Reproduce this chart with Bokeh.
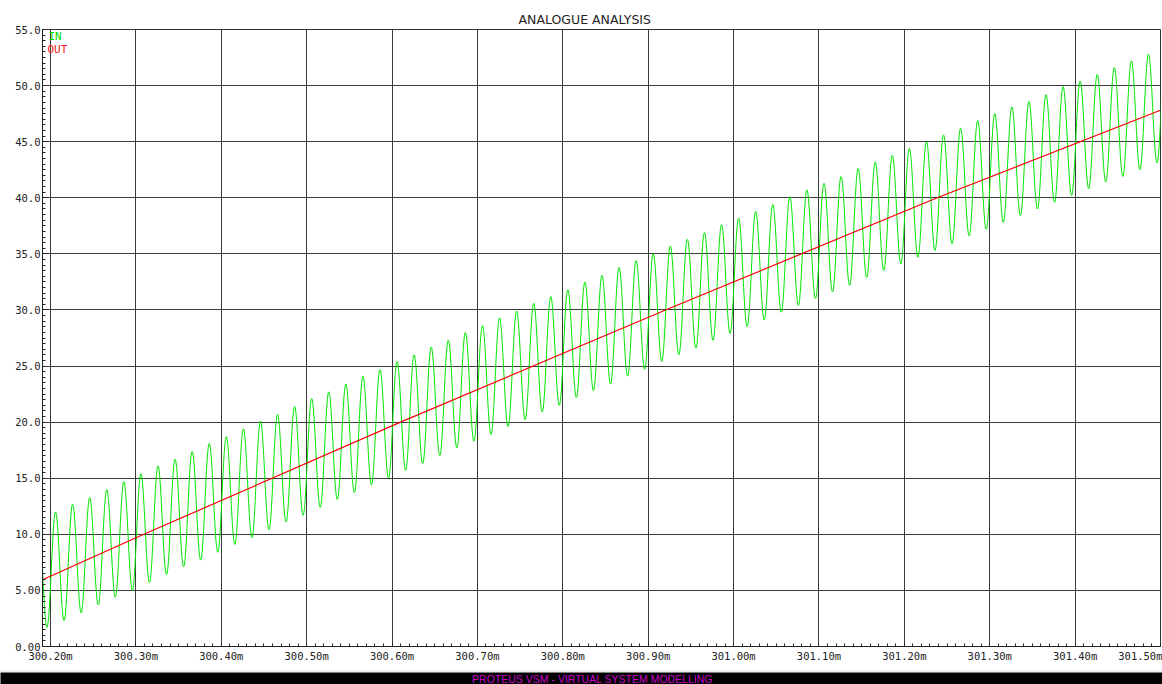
import numpy as np
from bokeh.plotting import figure
from bokeh.models import Range1d, FixedTicker, ColumnDataSource, Label
from bokeh.layouts import column
from bokeh.embed import file_html
from bokeh.resources import INLINE

# IN trace: successive peaks and troughs of the input signal (time in ms, volts)
in_t_ms = [
    300.1859, 300.1959, 300.2059, 300.2159, 300.2259, 300.2359, 300.2459, 300.2559, 300.2659, 300.2759,
    300.2859, 300.2959, 300.3059, 300.3159, 300.3259, 300.3359, 300.3459, 300.3559, 300.3659, 300.3759,
    300.3859, 300.3959, 300.4059, 300.4159, 300.4259, 300.4359, 300.4459, 300.4559, 300.4659, 300.4759,
    300.4859, 300.4959, 300.5059, 300.5159, 300.5259, 300.5359, 300.5459, 300.5559, 300.5659, 300.5759,
    300.5859, 300.5959, 300.6059, 300.6159, 300.6259, 300.6359, 300.6459, 300.6559, 300.6659, 300.6759,
    300.6859, 300.6959, 300.7059, 300.7159, 300.7259, 300.7359, 300.7459, 300.7559, 300.7659, 300.7759,
    300.7859, 300.7959, 300.8059, 300.8159, 300.8259, 300.8359, 300.8459, 300.8559, 300.8659, 300.8759,
    300.8859, 300.8959, 300.9059, 300.9159, 300.9259, 300.9359, 300.9459, 300.9559, 300.9659, 300.9759,
    300.9859, 300.9959, 301.0059, 301.0159, 301.0259, 301.0359, 301.0459, 301.0559, 301.0659, 301.0759,
    301.0859, 301.0959, 301.1059, 301.1159, 301.1259, 301.1359, 301.1459, 301.1559, 301.1659, 301.1759,
    301.1859, 301.1959, 301.2059, 301.2159, 301.2259, 301.2359, 301.2459, 301.2559, 301.2659, 301.2759,
    301.2859, 301.2959, 301.3059, 301.3159, 301.3259, 301.3359, 301.3459, 301.3559, 301.3659, 301.3759,
    301.3859, 301.3959, 301.4059, 301.4159, 301.4259, 301.4359, 301.4459, 301.4559, 301.4659, 301.4759,
    301.4859, 301.4959, 301.5059,
]
in_v = [
    11.3, 1.7, 12.0, 2.3, 12.7, 3.0, 13.3, 3.7, 14.0, 4.4,
    14.7, 5.0, 15.4, 5.7, 16.1, 6.4, 16.7, 7.1, 17.4, 7.7,
    18.1, 8.4, 18.7, 9.1, 19.4, 9.7, 20.1, 10.4, 20.7, 11.1,
    21.4, 11.7, 22.1, 12.4, 22.7, 13.1, 23.4, 13.7, 24.1, 14.4,
    24.7, 15.0, 25.4, 15.7, 26.0, 16.3, 26.7, 17.0, 27.3, 17.7,
    28.0, 18.3, 28.6, 18.9, 29.3, 19.6, 29.9, 20.2, 30.6, 20.9,
    31.2, 21.5, 31.8, 22.2, 32.5, 22.8, 33.1, 23.4, 33.8, 24.1,
    34.4, 24.7, 35.0, 25.4, 35.7, 26.0, 36.3, 26.6, 36.9, 27.3,
    37.6, 27.9, 38.2, 28.5, 38.8, 29.1, 39.4, 29.8, 40.1, 30.4,
    40.7, 31.0, 41.3, 31.6, 41.9, 32.2, 42.6, 32.9, 43.2, 33.5,
    43.8, 34.1, 44.4, 34.7, 45.0, 35.3, 45.6, 35.9, 46.2, 36.6,
    46.9, 37.2, 47.5, 37.8, 48.1, 38.4, 48.6, 39.0, 49.2, 39.6,
    49.9, 40.2, 50.4, 40.8, 51.0, 41.4, 51.6, 41.9, 52.2, 42.5,
    52.8, 43.1, 53.4,
]

# OUT trace: filtered output ramp
out_t_ms = [300.1906, 300.3093, 300.6099, 300.9203, 301.2385, 301.50]
out_v = [5.95, 10.0, 20.0, 30.0, 40.0, 47.8]

# Axis ticks and their labels
x_ticks = [300.2, 300.3, 300.4, 300.5, 300.6, 300.7, 300.8, 300.9,
           301.0, 301.1, 301.2, 301.3, 301.4, 301.5]
x_tick_labels = ["300.20m", "300.30m", "300.40m", "300.50m", "300.60m", "300.70m", "300.80m",
                 "300.90m", "301.00m", "301.10m", "301.20m", "301.30m", "301.40m", "301.50m"]
y_ticks = [0, 5, 10, 15, 20, 25, 30, 35, 40, 45, 50, 55]
y_tick_labels = ["0.00", "5.00", "10.0", "15.0", "20.0", "25.0",
                 "30.0", "35.0", "40.0", "45.0", "50.0", "55.0"]

X_START, X_END = 300.19063, 301.50
Y_START, Y_END = 0.0, 55.0

MONO = "DejaVu Sans Mono"
INK = "#222222"
W = 1162


def strip(height, color):
    """A plain full-width coloured band (window furniture)."""
    s = figure(width=W, height=height, x_axis_type=None, y_axis_type=None,
               x_range=Range1d(0, W), y_range=Range1d(0, height),
               output_backend="svg", toolbar_location=None, frame_align=False,
               min_border=0,
               background_fill_color=color, border_fill_color=color,
               outline_line_color=None)
    s.grid.visible = False
    return s


p = figure(
    width=W, height=654,
    x_range=Range1d(X_START, X_END), y_range=Range1d(Y_START, Y_END),
    output_backend="svg", toolbar_location=None, frame_align=False,
    min_border_left=42, min_border_right=2, min_border_top=18, min_border_bottom=19,
    background_fill_color="white", border_fill_color="white",
    outline_line_color="#333333", outline_line_width=1,
)

p.title.text = "ANALOGUE ANALYSIS"
p.title.align = "left"
p.title.offset = 476
p.title.vertical_align = "top"
p.title.text_font = "DejaVu Sans"
p.title.text_font_style = "normal"
p.title.text_font_size = "12.5px"
p.title.text_color = INK
p.title.standoff = 1

x_minor = np.round(np.arange(300.19, 301.5001, 0.01), 2).tolist()
y_minor = np.round(np.arange(0.0, 55.001, 0.5), 1).tolist()

p.xaxis.ticker = FixedTicker(ticks=x_ticks, minor_ticks=x_minor)
p.yaxis.ticker = FixedTicker(ticks=y_ticks, minor_ticks=y_minor)
p.xaxis.major_label_overrides = dict(zip(x_ticks, x_tick_labels))
p.yaxis.major_label_overrides = dict(zip(y_ticks, y_tick_labels))

for ax in (p.xaxis[0], p.yaxis[0]):
    ax.axis_line_color = INK
    ax.axis_line_width = 1
    ax.major_tick_in = 0
    ax.major_tick_out = 0
    ax.minor_tick_in = 3
    ax.minor_tick_out = 0
    ax.minor_tick_line_color = INK
    ax.major_label_text_font = MONO
    ax.major_label_text_font_size = "10.5px"
    ax.major_label_text_color = INK
p.xaxis.major_label_standoff = 3
p.yaxis.major_label_standoff = 2

p.grid.grid_line_color = "#3a3a3a"
p.grid.grid_line_width = 1
p.grid.grid_line_alpha = 1.0

# IN: smooth half-wave segments between consecutive extrema
t = np.array(in_t_ms)
v = np.array(in_v)
dt = t[1:] - t[:-1]
k = 0.3642
seg = ColumnDataSource(dict(
    x0=t[:-1], y0=v[:-1], x1=t[1:], y1=v[1:],
    cx0=t[:-1] + k * dt, cy0=v[:-1], cx1=t[1:] - k * dt, cy1=v[1:],
))
p.bezier(x0="x0", y0="y0", x1="x1", y1="y1", cx0="cx0", cy0="cy0", cx1="cx1", cy1="cy1",
         source=seg, line_color="#00e600", line_width=1)

# OUT
p.line(out_t_ms, out_v, line_color="#ff0000", line_width=1.2)

# Trace names in the top-left corner
p.add_layout(Label(x=X_START, y=Y_END, x_offset=6, y_offset=0, text="IN",
                   text_color="#00dd00", text_font=MONO, text_font_size="11px",
                   text_baseline="top"))
p.add_layout(Label(x=X_START, y=Y_END, x_offset=5, y_offset=-13, text="OUT",
                   text_color="#ff2020", text_font=MONO, text_font_size="11px",
                   text_baseline="top"))

# Window furniture above and below the graph
top_gap = strip(9, "white")
top_rule = strip(2, "#ececec")
bottom_band = strip(7, "#e8edf1")
bar = strip(12, "black")
bar.add_layout(Label(x=592, y=6, text="PROTEUS VSM - VIRTUAL SYSTEM MODELLING",
                     text_color="#cc00cc", text_font="Liberation Sans", text_font_size="10.5px",
                     text_align="center", text_baseline="middle"))

layout = column(top_gap, top_rule, p, bottom_band, bar, spacing=0)

with open("out.html", "w") as f:
    f.write(file_html(layout, INLINE))
